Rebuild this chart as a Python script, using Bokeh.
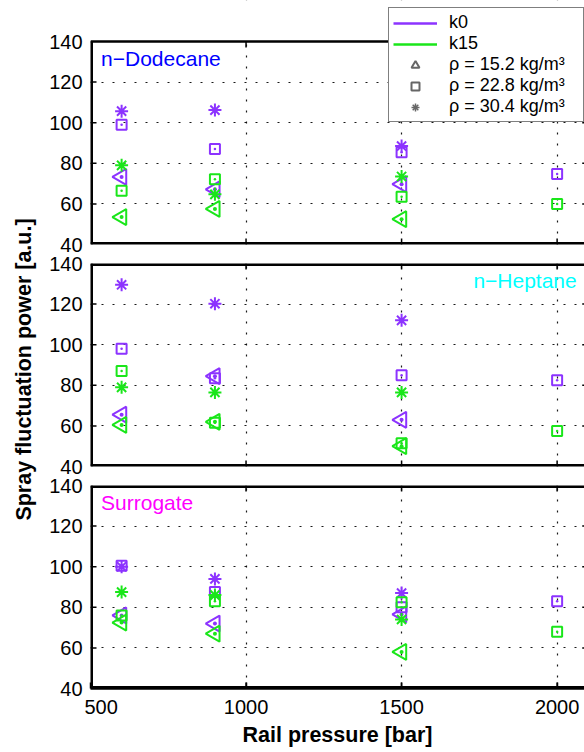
from math import pi
from bokeh.plotting import figure
from bokeh.models import (Range1d, FixedTicker, Label, Legend, LegendItem, BoxAnnotation,
                          LinearAxis, Grid)
from bokeh.core.properties import value
from bokeh.layouts import column, row
from bokeh.embed import file_html
from bokeh.resources import INLINE

FONT = "Liberation Sans"
PURPLE = "#8C33FF"
GREEN = "#1AE61A"
GRAY = "#666666"
NAN = float("nan")

# ---------------- data ----------------
pressure_all = [600, 900, 1500, 2000]   # rho = 22.8 measured at all pressures
pressure_3 = [600, 900, 1500]           # rho = 15.2 and 30.4
x_ticks = [500, 1000, 1500, 2000]
y_ticks = [40, 60, 80, 100, 120, 140]
x_lim = [500, 2100]
y_lim = [40, 140]

fuels = ["n\u2212Dodecane", "n\u2212Heptane", "Surrogate"]
fuel_colors = ["#0000FF", "#00FFFF", "#FF00FF"]

# n-Dodecane
dod_k0_r152 = [73.3, 67.2, 69.7]
dod_k0_r228 = [99.0, 87.1, 85.4, 74.7]
dod_k0_r304 = [105.7, 106.2, 88.5]
dod_k15_r152 = [53.5, 57.5, 52.5]
dod_k15_r228 = [66.5, 72.2, 63.5, 60.0]
dod_k15_r304 = [79.0, 64.7, 73.5]

# n-Heptane
hep_k0_r152 = [65.5, 84.5, 63.0]
hep_k0_r228 = [98.0, 83.5, 85.0, 82.5]
hep_k0_r304 = [129.5, 120.2, 112.0]
hep_k15_r152 = [60.5, 62.0, 50.0]
hep_k15_r228 = [87.0, 61.5, 51.5, 57.5]
hep_k15_r304 = [79.0, 76.5, 76.5]

# Surrogate
sur_k0_r152 = [76.0, 72.0, 76.5]
sur_k0_r228 = [100.5, 87.5, 80.0, 83.0]
sur_k0_r304 = [100.0, 94.0, 87.0]
sur_k15_r152 = [72.5, 67.0, 58.0]
sur_k15_r228 = [76.0, 83.0, 82.5, 68.0]
sur_k15_r304 = [87.5, 86.0, 74.0]

panels = [
    ((dod_k0_r152, dod_k0_r228, dod_k0_r304), (dod_k15_r152, dod_k15_r228, dod_k15_r304)),
    ((hep_k0_r152, hep_k0_r228, hep_k0_r304), (hep_k15_r152, hep_k15_r228, hep_k15_r304)),
    ((sur_k0_r152, sur_k0_r228, sur_k0_r304), (sur_k15_r152, sur_k15_r228, sur_k15_r304)),
]

legend_labels = ["k0", "k15", "\u03c1 = 15.2 kg/m\u00b3", "\u03c1 = 22.8 kg/m\u00b3", "\u03c1 = 30.4 kg/m\u00b3"]
y_title = "Spray fluctuation power [a.u.]"
x_title = "Rail pressure [bar]"

# ---------------- layout constants ----------------
STRIP_W = 84                 # left strip: y tick labels + y title
FRAME_LEFT = 90              # page x of the boxes' left edge
FIG_W = 584 - STRIP_W
BORDER_L = FRAME_LEFT - STRIP_W
FRAME_H = 203
TOP_SPACE = 41               # room above the first box (legend)
GAP_T, GAP_B, BOTTOM_B = 10, 9, 64
X_END = 2088                 # visible right end of the frames
PX_PER_Y = FRAME_H / (y_lim[1] - y_lim[0])
PX_PER_X = (FIG_W - BORDER_L) / (X_END - x_lim[0])
TICK_PX = 6

# (border_top, frame_height, border_bottom, y_top_of_frame)
specs = [
    (0, TOP_SPACE + FRAME_H, GAP_B, y_lim[1] + TOP_SPACE / PX_PER_Y),
    (GAP_T, FRAME_H, GAP_B, y_lim[1]),
    (GAP_T, FRAME_H, BOTTOM_B, y_lim[1]),
]
fig_heights = [a + b + c for a, b, c, _ in specs]
TOTAL_H = sum(fig_heights)
# page y of each box's 40-line
box_bottoms = []
acc = 0
for a, b, c, _ in specs:
    box_bottoms.append(acc + a + b)
    acc += a + b + c

marker_specs = [
    dict(marker="triangle_dot", size=16, angle=pi / 2),
    dict(marker="square_dot", size=10, angle=0.0),
    dict(marker="asterisk", size=13, angle=0.0),
]

figs = []
for i, ((k0_15, k0_22, k0_30), (k15_15, k15_22, k15_30)) in enumerate(panels):
    bt, fh, bb, ymax = specs[i]
    p = figure(width=FIG_W, height=fig_heights[i], output_backend="svg",
               toolbar_location=None, x_range=Range1d(x_lim[0], X_END),
               y_range=Range1d(y_lim[0], ymax),
               x_axis_location=None, y_axis_location=None,
               min_border_left=BORDER_L, min_border_right=0, min_border_top=bt,
               min_border_bottom=bb, outline_line_color=None,
               background_fill_color="white", border_fill_color="white")
    # drop default grids, add dotted ones at the wanted ticks
    p.center = [r for r in p.center if not isinstance(r, Grid)]
    for dim, ticks in ((0, x_ticks), (1, y_ticks)):
        g = Grid(dimension=dim, ticker=FixedTicker(ticks=ticks), grid_line_color="black",
                 grid_line_dash="2 9", grid_line_width=1.2, grid_line_alpha=0.9)
        p.add_layout(g, "center")

    if i == 0:
        # keep the space above the first box clear (legend area)
        p.add_layout(BoxAnnotation(bottom=y_lim[1], fill_color="white", fill_alpha=1.0,
                                   line_color=None, level="underlay"))

    if i == 2:
        xa = LinearAxis(ticker=FixedTicker(ticks=x_ticks))
        xa.axis_line_width = 2.5
        xa.axis_line_color = "black"
        xa.major_tick_in = TICK_PX
        xa.major_tick_out = 0
        xa.major_tick_line_width = 1.5
        xa.minor_tick_line_color = None
        xa.major_label_text_font = FONT
        xa.major_label_text_font_size = "20px"
        xa.major_label_text_color = "black"
        xa.major_label_standoff = 11
        xa.axis_label = x_title
        xa.axis_label_text_font = FONT
        xa.axis_label_text_font_style = "bold"
        xa.axis_label_text_font_size = "21.5px"
        xa.axis_label_text_color = "black"
        xa.axis_label_standoff = 6
        p.add_layout(xa, "below")

    # data markers
    for color, series in ((PURPLE, (k0_15, k0_22, k0_30)), (GREEN, (k15_15, k15_22, k15_30))):
        for j, (vals, spec) in enumerate(zip(series, marker_specs)):
            xs = pressure_all if j == 1 else pressure_3
            p.scatter(x=xs, y=vals, marker=spec["marker"], size=spec["size"], angle=spec["angle"],
                      line_color=color, line_width=2, fill_color=None)

    # inward tick marks on all four sides of the box
    tx = x_ticks[1:]
    ty = y_ticks[1:-1]
    dy = TICK_PX / PX_PER_Y
    dx = TICK_PX / PX_PER_X
    p.segment(x0=tx, y0=[y_lim[1]] * len(tx), x1=tx, y1=[y_lim[1] - dy] * len(tx),
              line_color="black", line_width=1.5)
    p.segment(x0=tx, y0=[y_lim[0]] * len(tx), x1=tx, y1=[y_lim[0] + dy] * len(tx),
              line_color="black", line_width=1.5)
    p.segment(x0=[x_lim[0]] * len(ty), y0=ty, x1=[x_lim[0] + dx] * len(ty), y1=ty,
              line_color="black", line_width=1.5)
    p.segment(x0=[x_lim[1]] * len(ty), y0=ty, x1=[x_lim[1] - dx] * len(ty), y1=ty,
              line_color="black", line_width=1.5)

    # box edges (edges lying on the frame border are half clipped, so drawn twice as wide)
    p.segment(x0=[x_lim[0]], y0=[y_lim[0]], x1=[x_lim[0]], y1=[y_lim[1]],
              line_color="black", line_width=5)
    p.segment(x0=[x_lim[0]], y0=[y_lim[0]], x1=[x_lim[1]], y1=[y_lim[0]],
              line_color="black", line_width=5)
    p.segment(x0=[x_lim[0]], y0=[y_lim[1]], x1=[x_lim[1]], y1=[y_lim[1]],
              line_color="black", line_width=(2.5 if i == 0 else 5))

    # fuel name
    if i == 1:
        lab = Label(x=2063, y=131.4, text=fuels[i], text_align="right", text_baseline="middle")
    else:
        lab = Label(x=534, y=131.4, text=fuels[i], text_align="left", text_baseline="middle")
    lab.text_font = FONT
    lab.text_font_size = "21px"
    lab.text_color = fuel_colors[i]
    p.add_layout(lab)

    if i == 0:
        r_k0 = p.line(x=[NAN], y=[NAN], line_color=PURPLE, line_width=2.5)
        r_k15 = p.line(x=[NAN], y=[NAN], line_color=GREEN, line_width=2.5)
        r_t = p.scatter(x=[NAN], y=[NAN], marker="triangle", line_color=GRAY,
                        line_width=2, fill_color=None)
        r_s = p.scatter(x=[NAN], y=[NAN], marker="square", line_color=GRAY, line_width=2,
                        fill_color=None)
        r_a = p.scatter(x=[NAN], y=[NAN], marker="asterisk", line_color=GRAY, line_width=1.5)
        items = [LegendItem(label=t, renderers=[r]) for t, r in
                 zip(legend_labels, [r_k0, r_k15, r_t, r_s, r_a])]
        leg = Legend(items=items, location=(298, 122), orientation="vertical")
        leg.label_text_font = FONT
        leg.label_text_font_size = "18px"
        leg.label_text_color = "black"
        leg.label_height = 20
        leg.glyph_height = 20
        leg.glyph_width = 44
        leg.label_standoff = 12
        leg.label_width = 130
        leg.spacing = 0
        leg.padding = 4
        leg.margin = 0
        leg.border_line_color = "black"
        leg.border_line_width = 1
        leg.background_fill_color = "white"
        leg.background_fill_alpha = 1.0
        p.add_layout(leg)

    figs.append(p)

# ---------------- left strip: y tick labels of each panel + shared y title ----------------
strip = figure(width=STRIP_W, height=TOTAL_H, output_backend="svg", toolbar_location=None,
               x_range=Range1d(0, STRIP_W), y_range=Range1d(0, TOTAL_H),
               x_axis_location=None, y_axis_location=None, min_border=0,
               outline_line_color=None, background_fill_color="white",
               border_fill_color="white")
strip.center = [r for r in strip.center if not isinstance(r, Grid)]
extra = {}
for k, b in enumerate(box_bottoms):
    start = y_lim[0] - (TOTAL_H - b) / PX_PER_Y
    end = y_lim[0] + b / PX_PER_Y
    extra["p%d" % k] = Range1d(start, end)
strip.extra_y_ranges = extra
for k in range(3):
    strip.text(x=[STRIP_W - 2] * len(y_ticks), y=y_ticks, text=[str(v) for v in y_ticks],
               y_range_name="p%d" % k, text_align="right", text_baseline="middle",
               text_font=value(FONT), text_font_size=value("20px"), text_color="black")
strip.add_layout(Label(x=23, y=TOTAL_H - 369, text=y_title, angle=pi / 2, text_align="center",
                       text_baseline="middle", text_font=FONT, text_font_style="bold",
                       text_font_size="21.5px", text_color="black"))

layout = row(strip, column(*figs, spacing=0), spacing=0)
open("out.html", "w").write(file_html(layout, INLINE))
